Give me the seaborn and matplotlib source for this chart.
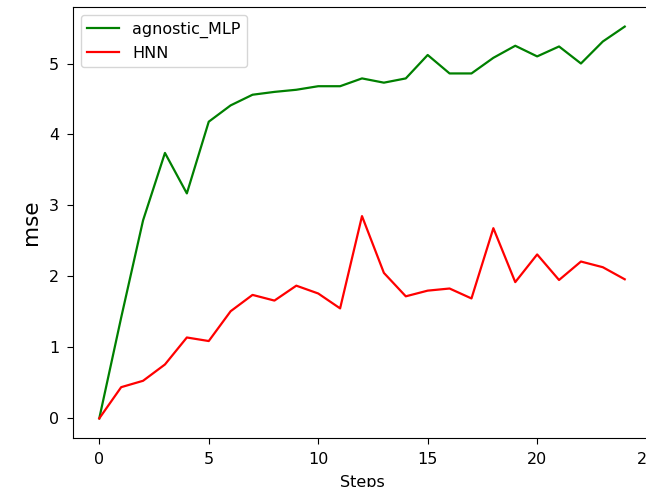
import numpy as np
import pandas as pd
import seaborn as sns
from matplotlib import pyplot as plt

steps = list(range(25))
agnostic_mlp = [0.0, 1.42, 2.79, 3.74, 3.17, 4.18, 4.41, 4.56, 4.60, 4.63,
                4.68, 4.68, 4.79, 4.73, 4.79, 5.12, 4.86, 4.86, 5.08, 5.25,
                5.10, 5.24, 5.00, 5.31, 5.52]
hnn = [0.0, 0.44, 0.53, 0.76, 1.14, 1.09, 1.51, 1.74, 1.66, 1.87,
       1.76, 1.55, 2.85, 2.05, 1.72, 1.80, 1.83, 1.69, 2.68, 1.92,
       2.31, 1.95, 2.21, 2.13, 1.96]

df = pd.DataFrame({
    "Steps": steps * 2,
    "mse": agnostic_mlp + hnn,
    "model": ["agnostic_MLP"] * len(steps) + ["HNN"] * len(steps),
})

fig = plt.figure(figsize=(6.46, 4.87), dpi=100)
# axes runs past the right edge, like the cropped original
ax = fig.add_axes([73 / 646, 49 / 487, 578 / 646, 431 / 487])
sns.lineplot(data=df, x="Steps", y="mse", hue="model",
             palette={"agnostic_MLP": "green", "HNN": "red"},
             linewidth=1.6, ax=ax)

ax.set_xticks([0, 5, 10, 15, 20, 25])
ax.tick_params(labelsize=11.5, length=4.5, pad=5.5)
ax.set_ylabel("mse", fontsize=15.5, labelpad=6)
ax.set_xlabel("Steps", fontsize=11.5, labelpad=6)
ax.legend(loc="upper left", fontsize=11.5)

fig.savefig("out.png", dpi=100)
